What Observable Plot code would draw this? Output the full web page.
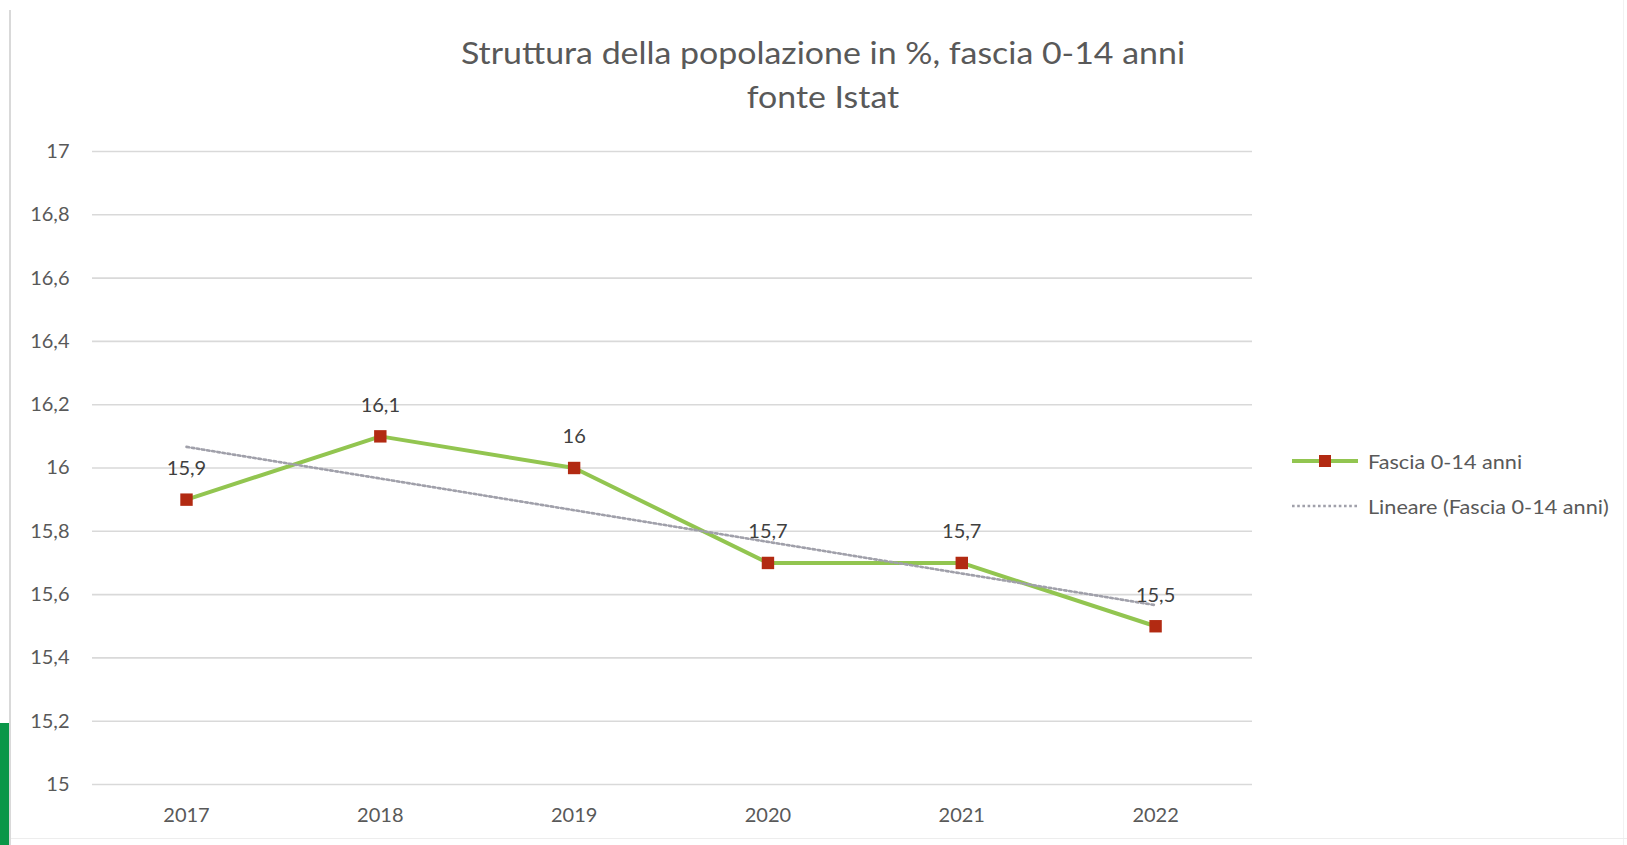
<!DOCTYPE html>
<html>
<head>
<meta charset="utf-8">
<script src="https://cdn.jsdelivr.net/npm/d3@7"></script>
<script src="https://cdn.jsdelivr.net/npm/@observablehq/plot@0.6"></script>
<style>
  html, body { margin: 0; padding: 0; background: #ffffff; }
  body { width: 1627px; height: 845px; overflow: hidden; position: relative; font-family: Lato, "Open Sans", sans-serif; }
  #header { position: relative; height: 120px; }
  #title { position: absolute; left: 823px; top: 30px; transform: translateX(-50%) scaleX(1.13); text-align: center;
           color: #595959; font-size: 30px; line-height: 44px; white-space: nowrap; }
  #chart { position: relative; }
  .legend { position: absolute; left: 1292px; color: #595959; font-size: 19px; display: flex; align-items: center; white-space: nowrap; }
  .legend svg { margin-right: 10px; }
  .legend span { display: inline-block; transform: scaleX(1.14); transform-origin: left center; }
  #leftline { position: absolute; left: 9px; top: 10px; width: 2px; height: 835px; background: #D9D9D9; }
  #rightline { position: absolute; left: 1623px; top: 0; width: 1px; height: 845px; background: #F2F2F2; }
  #greenbar { position: absolute; left: 0; top: 723px; width: 9px; height: 122px; background: #0A9648; }
  #bottomline { position: absolute; left: 11px; top: 838px; width: 1616px; height: 1px; background: #EDEDED; }
</style>
</head>
<body>
<div id="leftline"></div>
<div id="rightline"></div>
<div id="greenbar"></div>
<div id="bottomline"></div>
<div id="header"><div id="title"></div></div>
<div id="chart"></div>
<script>
const years = [2017, 2018, 2019, 2020, 2021, 2022];
const values = [15.9, 16.1, 16, 15.7, 15.7, 15.5];
const yTicks = [15, 15.2, 15.4, 15.6, 15.8, 16, 16.2, 16.4, 16.6, 16.8, 17];
const titleLines = ["Struttura della popolazione in %, fascia 0-14 anni", "fonte Istat"];
const seriesName = "Fascia 0-14 anni";
const trendName = "Lineare (Fascia 0-14 anni)";

const lineColor = "#92C550";
const markerColor = "#B22A12";
const trendColor = "#A0A0AA";

const data = years.map((year, i) => ({year, value: values[i]}));
const fmt = d => String(+(+d).toFixed(1)).replace(".", ",");

document.getElementById("title").innerHTML = titleLines.join("<br>");

const chart = Plot.plot({
  width: 1627,
  height: 725,
  marginLeft: 92,
  marginRight: 375,
  marginTop: 31,
  marginBottom: 61,
  style: {fontFamily: "Lato, 'Open Sans', sans-serif", fontSize: "20px", color: "#595959", background: "transparent", overflow: "visible"},
  x: {domain: [2016.515, 2022.5], ticks: years, tickFormat: d => String(d), tickSize: 0, tickPadding: 23, label: null},
  y: {domain: [15, 17], ticks: yTicks, tickFormat: fmt, tickSize: 0, tickPadding: 23, label: null},
  marks: [
    Plot.gridY(yTicks, {stroke: "#D9D9D9", strokeOpacity: 1, strokeWidth: 1.6}),
    Plot.line(data, {x: "year", y: "value", stroke: lineColor, strokeWidth: 4}),
    Plot.linearRegressionY(data, {x: "year", y: "value", stroke: trendColor, strokeWidth: 2.6, strokeDasharray: "2.6,2.6", ci: 0}),
    Plot.dot(data, {x: "year", y: "value", symbol: "square", r: 7, fill: markerColor, stroke: null}),
    Plot.text(data, {x: "year", y: "value", text: d => fmt(d.value), dy: -31, fill: "#404040", fontSize: 20}),
    Plot.axisX({ticks: years, tickFormat: d => String(d), tickSize: 0, tickPadding: 23, fill: "#595959", fontSize: 20}),
    Plot.axisY({ticks: yTicks, tickFormat: fmt, tickSize: 0, tickPadding: 23, fill: "#595959", fontSize: 20})
  ]
});
document.getElementById("chart").appendChild(chart);

// legend
function addLegend(top, label, dashed) {
  const div = document.createElement("div");
  div.className = "legend";
  div.style.top = (top - 12) + "px";
  div.style.height = "24px";
  const sw = dashed
    ? `<svg width="66" height="24"><line x1="0" x2="66" y1="12" y2="12" stroke="${trendColor}" stroke-width="2.6" stroke-dasharray="2.6,2.6"/></svg>`
    : `<svg width="66" height="24"><line x1="0" x2="66" y1="12" y2="12" stroke="${lineColor}" stroke-width="4"/><rect x="27" y="6" width="12" height="12" fill="${markerColor}"/></svg>`;
  div.innerHTML = sw + `<span>${label}</span>`;
  document.body.appendChild(div);
}
addLegend(461, seriesName, false);
addLegend(506, trendName, true);
</script>
</body>
</html>
